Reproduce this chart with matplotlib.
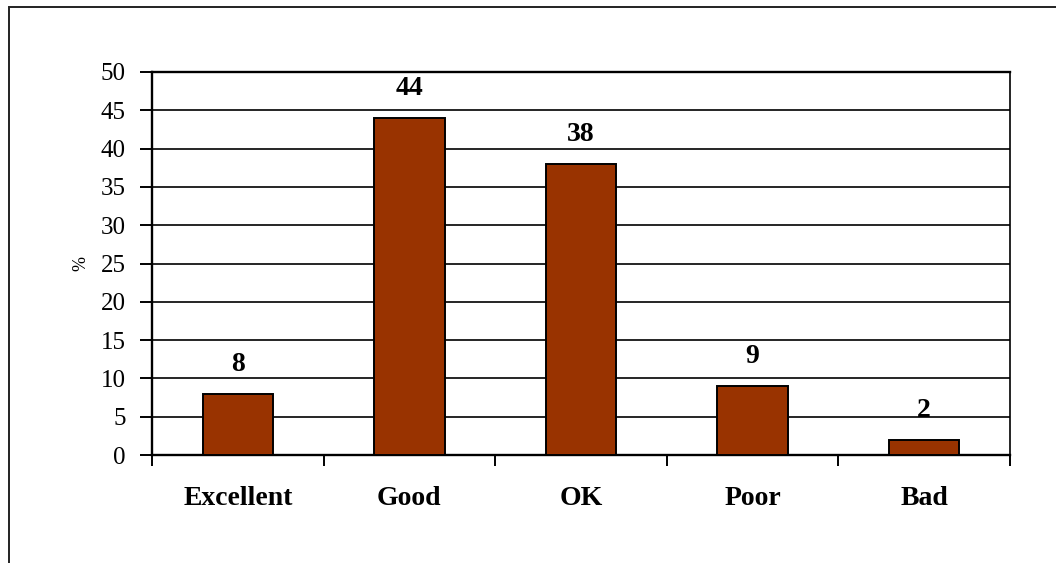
import matplotlib.pyplot as plt
from matplotlib.patches import Rectangle

# survey answers (%)
categories = ["Excellent", "Good", "OK", "Poor", "Bad"]
values = [8, 44, 38, 9, 2]
y_ticks = [0, 5, 10, 15, 20, 25, 30, 35, 40, 45, 50]

plt.rcParams['font.family'] = ['Liberation Serif', 'DejaVu Serif']

fig = plt.figure(figsize=(10.56, 5.63), dpi=100)
ax = fig.add_axes([152 / 1056, 1 - 455 / 563, 858 / 1056, 383 / 563])

x = list(range(len(categories)))
bars = ax.bar(x, values, width=0.41, color='#993300', edgecolor='black',
              linewidth=1.4, zorder=3)

# value labels above the bars
for xi, v in zip(x, values):
    ax.annotate(str(v), (xi, v), xytext=(0, 12), textcoords='offset points',
                ha='center', va='bottom', fontsize=20, fontweight='bold')

ax.set_xlim(-0.5, len(categories) - 0.5)
ax.set_ylim(0, 50)
ax.set_yticks(y_ticks)
ax.yaxis.grid(True, color='black', linewidth=1.2, zorder=0)
ax.set_axisbelow(True)

# ticks at category boundaries, labels centred below the bars
ax.set_xticks([i - 0.5 for i in range(len(categories) + 1)])
ax.set_xticklabels([])
ax.set_xticks(x, minor=True)
ax.set_xticklabels(categories, minor=True, fontsize=20, fontweight='bold')
ax.tick_params(axis='x', which='major', length=8, width=1.4, direction='out')
ax.tick_params(axis='x', which='minor', length=0, pad=22)
ax.tick_params(axis='y', length=9, width=1.4, direction='out', pad=10,
               labelsize=18)

ax.set_ylabel('%', fontsize=13, labelpad=8)

for side in ['left', 'bottom', 'top']:
    ax.spines[side].set_linewidth(1.7)
ax.spines['right'].set_linewidth(1.2)

# outer chart border (runs past the right/bottom image edge)
fig.patches.append(Rectangle((9 / 1056, -0.1), 1.2, 1 - 7 / 563 + 0.1,
                             transform=fig.transFigure, fill=False,
                             edgecolor='#222222', linewidth=1.4))

fig.savefig('out.png', dpi=100)
